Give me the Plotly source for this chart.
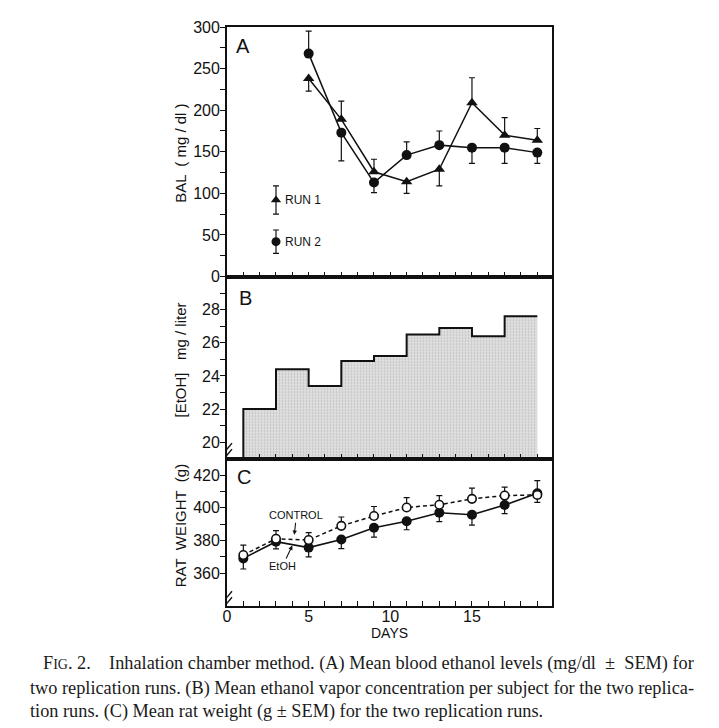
import plotly.graph_objects as go

# ---------------- data ----------------
# Panel A: blood ethanol levels (mg/dl), mean and SEM; side: '+' bar above, '-' bar below
bal_days = [5, 7, 9, 11, 13, 15, 17, 19]
run1_bal = [238, 189, 126, 114, 129, 209, 170, 164]
run1_sem = [15, 22, 15, 14, 20, 30, 21, 14]
run1_side = ['-', '+', '+', '-', '-', '+', '+', '+']
run2_bal = [268, 173, 113, 146, 158, 155, 155, 149]
run2_sem = [27, 34, 12, 16, 17, 19, 19, 13]
run2_side = ['+', '-', '-', '+', '+', '-', '-', '-']

# in-plot legend samples for panel A
legend_day = 3
legend_run1 = 92
legend_run1_sem = 17
legend_run2 = 42
legend_run2_sem = 14

# Panel B: ethanol vapor concentration (mg/liter), steps starting at these days
step_start_days = [1, 3, 5, 7, 9, 11, 13, 15, 17]
step_end_day = 19
etoh_conc = [22.0, 24.4, 23.4, 24.9, 25.2, 26.5, 26.9, 26.4, 27.6]

# Panel C: rat weight (g), mean and SEM
wt_days = [1, 3, 5, 7, 9, 11, 13, 15, 17, 19]
control_wt = [371.2, 381.1, 380.3, 389.0, 395.0, 400.2, 401.9, 405.5, 407.5, 407.9]
control_sem = [6, 5, 4.5, 5.4, 5.8, 6, 5.6, 6.5, 5.2, 8.7]
etoh_wt = [369.1, 379.3, 375.7, 380.7, 387.8, 391.8, 397.0, 395.8, 401.7, 408.9]
etoh_sem = [6.5, 4.4, 5.7, 5.6, 5.7, 5.2, 5.4, 6.4, 5.3, 5.6]

caption_lines = [
    "F<span style='font-size:14px'>IG</span>. 2.    Inhalation chamber method. (A) Mean blood ethanol levels (mg/dl  ±  SEM) for",
    "two replication runs. (B) Mean ethanol vapor concentration per subject for the two replica-",
    "tion runs. (C) Mean rat weight (g ± SEM) for the two replication runs.",
]

# ---------------- layout geometry (page pixels) ----------------
PAGE_W, PAGE_H = 719, 728
OFF = 8  # default body margin of the page
L, R, T, B = 226.5, 552, 26.5, 606.5
yAB, yBC = 276.5, 459


def pxx(px):
    return (px - L) / (R - L)


def pxy(py):
    return (B - py) / (B - T)


def up(sem, side):
    return [s if d == '+' else 0 for s, d in zip(sem, side)]


def down(sem, side):
    return [s if d == '-' else 0 for s, d in zip(sem, side)]


BLACK = '#111111'
SANS = 'Liberation Sans, Arial, sans-serif'
SERIF = 'Liberation Serif, Times New Roman, serif'


def err(plus, minus):
    return dict(type='data', symmetric=False, array=plus, arrayminus=minus,
                color=BLACK, thickness=1.2, width=3)


fig = go.Figure()

# ---- Panel A ----
fig.add_trace(go.Scatter(
    x=bal_days, y=run1_bal, mode='lines+markers', xaxis='x', yaxis='y',
    line=dict(color=BLACK, width=1.5),
    marker=dict(symbol='triangle-up', size=10, color=BLACK),
    error_y=err(up(run1_sem, run1_side), down(run1_sem, run1_side)),
    showlegend=False))
fig.add_trace(go.Scatter(
    x=bal_days, y=run2_bal, mode='lines+markers', xaxis='x', yaxis='y',
    line=dict(color=BLACK, width=1.5),
    marker=dict(symbol='circle', size=10, color=BLACK),
    error_y=err(up(run2_sem, run2_side), down(run2_sem, run2_side)),
    showlegend=False))
fig.add_trace(go.Scatter(
    x=[legend_day], y=[legend_run1], mode='markers', xaxis='x', yaxis='y',
    marker=dict(symbol='triangle-up', size=9, color=BLACK),
    error_y=dict(type='data', array=[legend_run1_sem], color=BLACK, thickness=1.2, width=3),
    showlegend=False))
fig.add_trace(go.Scatter(
    x=[legend_day], y=[legend_run2], mode='markers', xaxis='x', yaxis='y',
    marker=dict(symbol='circle', size=9, color=BLACK),
    error_y=dict(type='data', array=[legend_run2_sem], color=BLACK, thickness=1.2, width=3),
    showlegend=False))

# ---- Panel B ----
step_x = [step_start_days[0]] + step_start_days + [step_end_day]
step_y = [0] + etoh_conc + [etoh_conc[-1]]
fig.add_trace(go.Scatter(
    x=step_x, y=step_y, mode='lines', xaxis='x2', yaxis='y2',
    line=dict(color=BLACK, width=2, shape='hv'),
    fill='tozeroy', fillcolor='#dcdcdc',
    fillpattern=dict(shape='.', bgcolor='#e2e2e2', fgcolor='#a0a0a0', size=3, solidity=0.35),
    showlegend=False))

# ---- Panel C ----
fig.add_trace(go.Scatter(
    x=wt_days, y=etoh_wt, mode='lines+markers', xaxis='x3', yaxis='y3',
    line=dict(color=BLACK, width=1.6),
    marker=dict(symbol='circle', size=10, color=BLACK),
    error_y=err([0] * len(etoh_sem), etoh_sem),
    showlegend=False))
fig.add_trace(go.Scatter(
    x=wt_days, y=control_wt, mode='lines+markers', xaxis='x3', yaxis='y3',
    line=dict(color=BLACK, width=1.5, dash='4px,3px'),
    marker=dict(symbol='circle', size=8.5, color='white', line=dict(color=BLACK, width=1.6)),
    error_y=err(control_sem, [0] * len(control_sem)),
    showlegend=False))

# ---------------- axes ----------------
dC = [0, pxy(yBC)]
dB = [pxy(yBC), pxy(yAB)]
dA = [pxy(yAB), 1]
xr = [0, 19.9]

axis_common = dict(showline=True, linecolor=BLACK, linewidth=1.8, mirror=True,
                   showgrid=False, zeroline=False, color=BLACK)
xcommon = dict(axis_common, range=xr, ticks='inside', ticklen=5, tickwidth=1.3,
               tickcolor=BLACK)
ycommon = dict(axis_common, ticks='outside', ticklen=5, tickwidth=1.3, tickcolor=BLACK,
               ticklabelstandoff=-3,
               tickfont=dict(family=SANS, size=16, color=BLACK))

fig.update_layout(
    xaxis=dict(xcommon, anchor='y', domain=[0, 1], dtick=1, tick0=0, showticklabels=False),
    xaxis2=dict(xcommon, anchor='y2', domain=[0, 1], dtick=1, tick0=0, showticklabels=False),
    xaxis3=dict(xcommon, anchor='y3', domain=[0, 1], tickvals=[0, 5, 10, 15],
                tickfont=dict(family=SANS, size=16, color=BLACK), ticklabelstandoff=-5,
                minor=dict(dtick=1, tick0=0, ticks='inside', ticklen=5, tickcolor=BLACK, tickwidth=1.3)),
    yaxis=dict(ycommon, anchor='x', domain=dA, range=[0, 300],
               tickvals=[0, 50, 100, 150, 200, 250, 300],
               minor=dict(tickvals=[25, 75, 125, 175, 225, 275], ticks='outside', ticklen=5,
                          tickcolor=BLACK, tickwidth=1.3)),
    yaxis2=dict(ycommon, anchor='x2', domain=dB, range=[19, 30],
                tickvals=[20, 22, 24, 26, 28],
                minor=dict(tickvals=[21, 23, 25, 27, 29], ticks='outside', ticklen=5,
                           tickcolor=BLACK, tickwidth=1.3)),
    yaxis3=dict(ycommon, anchor='x3', domain=dC, range=[340, 430],
                tickvals=[360, 380, 400, 420],
                minor=dict(tickvals=[370, 390, 410], ticks='outside', ticklen=5,
                           tickcolor=BLACK, tickwidth=1.3)),
    width=PAGE_W - OFF, height=PAGE_H - OFF,
    margin=dict(l=L - OFF, r=PAGE_W - R, t=T - OFF, b=PAGE_H - B),
    paper_bgcolor='white', plot_bgcolor='rgba(0,0,0,0)',
    showlegend=False,
)

# ---------------- axis break marks ----------------
shapes = []
for yref, yval in (('y2', 19.4), ('y3', 343.5)):
    for off in (-3, 3):
        shapes.append(dict(type='line', xref='x', yref=yref,
                           xsizemode='pixel', ysizemode='pixel',
                           xanchor=0, yanchor=yval,
                           x0=-5, x1=5, y0=off - 6, y1=off + 6,
                           line=dict(color=BLACK, width=1.4)))
fig.update_layout(shapes=shapes)

# ---------------- annotations ----------------
ann = []
# y-axis titles
for text, cy in (("BAL  ( mg / dl )", 153), ("[EtOH]   mg / liter", 360), ("RAT  WEIGHT  (g)", 526)):
    ann.append(dict(text=text, xref='paper', yref='paper', x=pxx(180), y=pxy(cy),
                    textangle=-90, showarrow=False, xanchor='center', yanchor='middle',
                    font=dict(family=SANS, size=15, color=BLACK)))
# panel letters
for text, px, py in (("A", 243, 46), ("B", 245, 298), ("C", 244, 477)):
    ann.append(dict(text=text, xref='paper', yref='paper', x=pxx(px), y=pxy(py),
                    showarrow=False, xanchor='center', yanchor='middle',
                    font=dict(family=SANS, size=20, color=BLACK)))
# x title
ann.append(dict(text="DAYS", xref='paper', yref='paper', x=pxx(389), y=pxy(634),
                showarrow=False, xanchor='center', yanchor='middle',
                font=dict(family=SANS, size=14, color=BLACK)))
# legend labels in panel A
ann.append(dict(text="RUN 1", xref='x', yref='y', x=legend_day + 0.45, y=legend_run1,
                showarrow=False, xanchor='left', yanchor='middle',
                font=dict(family=SANS, size=12, color=BLACK)))
ann.append(dict(text="RUN 2", xref='x', yref='y', x=legend_day + 0.45, y=legend_run2,
                showarrow=False, xanchor='left', yanchor='middle',
                font=dict(family=SANS, size=12, color=BLACK)))
# panel C labels with arrows
ann.append(dict(text="CONTROL", xref='x3', yref='y3', x=4.12, y=383.5,
                axref='x3', ayref='y3', ax=4.25, ay=395.5,
                showarrow=True, arrowhead=2, arrowsize=0.8, arrowwidth=1.1, arrowcolor=BLACK,
                standoff=0, font=dict(family=SANS, size=11, color=BLACK)))
ann.append(dict(text="EtOH", xref='x3', yref='y3', x=4.0, y=377.0,
                axref='x3', ayref='y3', ax=3.4, ay=364.5,
                showarrow=True, arrowhead=2, arrowsize=0.8, arrowwidth=1.1, arrowcolor=BLACK,
                standoff=0, font=dict(family=SANS, size=11, color=BLACK)))
# caption
for text, px, py in zip(caption_lines, (40, 27, 27), (664, 689, 712)):
    ann.append(dict(text=text, xref='paper', yref='paper', x=pxx(px), y=pxy(py),
                    showarrow=False, xanchor='left', yanchor='middle',
                    font=dict(family=SERIF, size=18.3, color='#1a1a1a')))
fig.update_layout(annotations=ann)

fig.write_html("out.html")
